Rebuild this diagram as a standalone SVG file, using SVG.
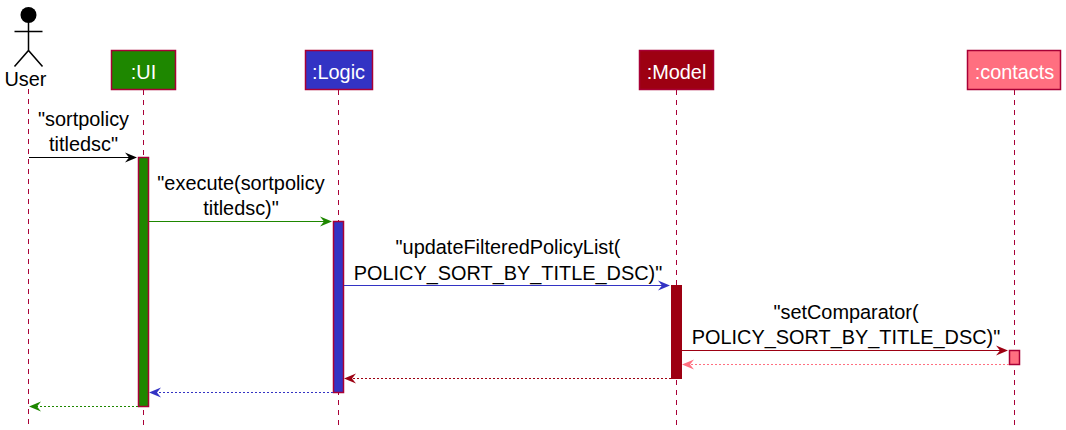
<svg xmlns="http://www.w3.org/2000/svg" width="1066" height="430" viewBox="0 0 1066 430">
<style>
text{font-family:"Liberation Sans",Arial,sans-serif;font-size:19.9px;fill:#000;text-anchor:middle}
.h{fill:#fff}
.life{stroke:#A80036;stroke-width:1;stroke-dasharray:5 5;fill:none}
.box{stroke:#A80036;stroke-width:1.5}
.msg{stroke-width:1.1;fill:none}
.ret{stroke-width:1.1;stroke-dasharray:2 2;fill:none}
</style>
<defs>
<path id="ah" d="M0 0 L-12 -5 L-8 0 L-12 5 Z"/>
</defs>
<rect width="1066" height="430" fill="#fff"/>
<g id="lifelines">
<line class="life" x1="28.5" y1="89" x2="28.5" y2="426"/>
<line class="life" x1="143.5" y1="90" x2="143.5" y2="426"/>
<line class="life" x1="338.5" y1="90" x2="338.5" y2="426"/>
<line class="life" x1="676.5" y1="90" x2="676.5" y2="426"/>
<line class="life" x1="1014.5" y1="90" x2="1014.5" y2="426"/>
</g>
<g id="user">
<circle cx="28.5" cy="15" r="8" fill="#000"/>
<path d="M28.5 22.5V50.5M14.5 31.5H42.5M14.5 66.5L28.5 50.5L42.5 66.5" stroke="#000" stroke-width="1.5" fill="none"/>
<text x="25.5" y="86">User</text>
</g>
<g id="ui">
<rect class="box" x="111.5" y="50.5" width="64" height="39" fill="#1E8700"/>
<text class="h" x="143.5" y="78.5">:UI</text>
<rect class="box" x="138.5" y="157.5" width="10" height="249" fill="#1E8700"/>
</g>
<g id="logic">
<rect class="box" x="305.5" y="50.5" width="67" height="39" fill="#3333C4"/>
<text class="h" x="338.5" y="78.5">:Logic</text>
<rect class="box" x="333.5" y="221.5" width="10" height="171" fill="#3333C4"/>
</g>
<g id="model">
<rect class="box" x="639.5" y="50.5" width="74" height="39" fill="#9D0012" stroke="#9D0012"/>
<text class="h" x="676.5" y="78.5">:Model</text>
<rect x="671" y="285" width="11" height="94" fill="#9D0012"/>
</g>
<g id="contacts">
<rect class="box" x="967.5" y="50.5" width="93" height="39" fill="#FF6F80"/>
<text class="h" x="1014.5" y="78.5">:contacts</text>
<rect class="box" x="1009.5" y="350.5" width="10" height="14" fill="#FF6F80"/>
</g>
<g id="connectors">
<line class="msg" x1="29" y1="157.5" x2="130" y2="157.5" stroke="#000"/>
<use href="#ah" transform="translate(137,157.5)" fill="#000"/>
<line class="msg" x1="149" y1="221.5" x2="325" y2="221.5" stroke="#1E8700"/>
<use href="#ah" transform="translate(332,221.5)" fill="#1E8700"/>
<line class="msg" x1="344" y1="285.5" x2="663" y2="285.5" stroke="#3333C4"/>
<use href="#ah" transform="translate(670,285.5)" fill="#3333C4"/>
<line class="msg" x1="682" y1="350.5" x2="1001" y2="350.5" stroke="#9D0012"/>
<use href="#ah" transform="translate(1008,350.5)" fill="#9D0012"/>
<line class="ret" x1="1009" y1="364.5" x2="690" y2="364.5" stroke="#FF6F80"/>
<use href="#ah" transform="translate(682,364.5) rotate(180)" fill="#FF6F80"/>
<line class="ret" x1="671" y1="378.5" x2="352" y2="378.5" stroke="#9D0012"/>
<use href="#ah" transform="translate(344,378.5) rotate(180)" fill="#9D0012"/>
<line class="ret" x1="333" y1="392.5" x2="157" y2="392.5" stroke="#3333C4"/>
<use href="#ah" transform="translate(149,392.5) rotate(180)" fill="#3333C4"/>
<line class="ret" x1="138" y1="406.5" x2="37" y2="406.5" stroke="#1E8700"/>
<use href="#ah" transform="translate(29,406.5) rotate(180)" fill="#1E8700"/>
</g>
<g id="labels">
<text x="83.5" y="125.5">"sortpolicy</text>
<text x="83.5" y="150.5">titledsc"</text>
<text x="241" y="190">"execute(sortpolicy</text>
<text x="241" y="215">titledsc)"</text>
<text x="508" y="254">"updateFilteredPolicyList(</text>
<text x="508" y="279.5">POLICY_SORT_BY_TITLE_DSC)"</text>
<text x="846" y="319">"setComparator(</text>
<text x="846" y="344">POLICY_SORT_BY_TITLE_DSC)"</text>
</g>
</svg>
